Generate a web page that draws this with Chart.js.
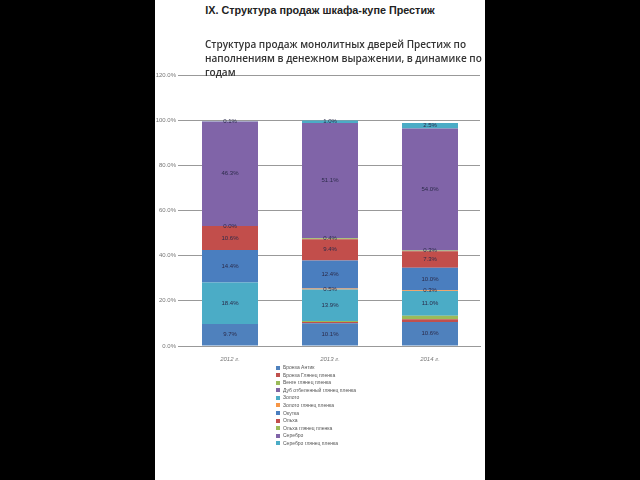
<!DOCTYPE html>
<html>
<head>
<meta charset="utf-8">
<script src="https://cdn.jsdelivr.net/npm/chart.js@4"></script>
<style>
  html, body { margin: 0; padding: 0; background: #000; }
  #page { position: relative; width: 640px; height: 480px; background: #000; overflow: hidden; }
  #panel { position: absolute; left: 155px; top: 0; width: 330px; height: 480px; background: #fff; }
  #mainTitle { position: absolute; left: 0; width: 640px; top: 4px; text-align: center;
    font: bold 10.8px "Liberation Sans", sans-serif; color: #222; }
  #chartTitle { position: absolute; left: 205px; top: 37px; width: 286px;
    font: 600 10px "Open Sans", sans-serif; line-height: 14px; color: #333; z-index: 2; }
  #wrap { position: absolute; left: 155px; top: 60px; width: 330px; height: 310px; }
  #legend { position: absolute; left: 276px; top: 364px; font: 5px "Liberation Sans", sans-serif; color: #555; }
  #legend div { height: 7.6px; line-height: 7.6px; white-space: nowrap; }
  #legend span { display: inline-block; width: 4px; height: 4px; margin-right: 3px; vertical-align: -0.5px; }
</style>
</head>
<body>
<div id="page">
  <div id="panel"></div>
  <div id="mainTitle">IX. Структура продаж шкафа-купе Престиж</div>
  <div id="chartTitle">Структура продаж монолитных дверей Престиж по наполнениям в денежном выражении, в динамике по годам</div>
  <div id="wrap"><canvas id="chart"></canvas></div>
  <div id="legend"></div>
</div>
<script>
// Years
const years = ["2012 г.", "2013 г.", "2014 г."];

// Share of sales by filling, %
const bronzeAntique = [9.7, 10.1, 10.6];
const bronzeGloss = [null, 0.5, 1.3];
const wengeGloss = [null, 0.5, 1.5];
const oakGloss = [null, null, null];
const gold = [18.4, 13.9, 11.0];
const goldGloss = [null, 0.5, 0.3];
const okutka = [14.4, 12.4, 10.0];
const alder = [10.6, 9.4, 7.3];
const alderGloss = [0.0, 0.4, 0.3];
const silver = [46.3, 51.1, 54.0];
const silverGloss = [0.1, 1.0, 2.5];

// Axis ticks
const yTicks = [0, 20, 40, 60, 80, 100, 120];

const series = [
  { label: "Бронза Антик", data: bronzeAntique, color: "#4f81bd", showValues: true },
  { label: "Бронза Глянец пленка", data: bronzeGloss, color: "#c0504d", showValues: false },
  { label: "Венге глянец пленка", data: wengeGloss, color: "#9bbb59", showValues: false },
  { label: "Дуб отбеленный глянец пленка", data: oakGloss, color: "#8064a2", showValues: false },
  { label: "Золото", data: gold, color: "#4bacc6", showValues: true },
  { label: "Золото глянец пленка", data: goldGloss, color: "#f79646", showValues: true },
  { label: "Окутка", data: okutka, color: "#4a7ebf", showValues: true },
  { label: "Ольха", data: alder, color: "#c24e4b", showValues: true },
  { label: "Ольха глянец пленка", data: alderGloss, color: "#9bbb59", showValues: true },
  { label: "Серебро", data: silver, color: "#8064a8", showValues: true },
  { label: "Серебро глянец пленка", data: silverGloss, color: "#4bacc6", showValues: true },
];

// Small value labels in the middle of each segment
const segmentLabels = {
  id: "segmentLabels",
  afterDatasetsDraw(chart) {
    const ctx = chart.ctx;
    ctx.save();
    ctx.font = "6px 'Liberation Sans', sans-serif";
    ctx.fillStyle = "#2b2b4a";
    ctx.textAlign = "center";
    ctx.textBaseline = "middle";
    chart.data.datasets.forEach((ds, i) => {
      if (!ds.showValues) return;
      chart.getDatasetMeta(i).data.forEach((bar, j) => {
        const v = ds.data[j];
        if (v === null || v === undefined) return;
        const mid = (bar.y + bar.base) / 2;
        ctx.fillText(v.toFixed(1) + "%", bar.x, mid);
      });
    });
    ctx.restore();
  },
};

const chart = new Chart(document.getElementById("chart"), {
  type: "bar",
  data: {
    labels: years,
    datasets: series.map((s) => ({
      label: s.label,
      data: s.data,
      backgroundColor: s.color,
      borderWidth: 0,
      showValues: s.showValues,
      barPercentage: 0.56,
      categoryPercentage: 1,
    })),
  },
  options: {
    responsive: true,
    maintainAspectRatio: false,
    animation: false,
    layout: { padding: { top: 15, right: 5, left: 0, bottom: 0 } },
    scales: {
      x: {
        stacked: true,
        grid: { display: false },
        border: { color: "#999" },
        ticks: { color: "#777", font: { size: 6, style: "italic", family: "Liberation Sans" }, padding: 2 },
        afterFit(axis) { axis.height = 24; },
      },
      y: {
        stacked: true,
        min: 0,
        max: 120,
        afterBuildTicks(axis) { axis.ticks = yTicks.map((v) => ({ value: v })); },
        grid: { color: "#999", tickLength: 2 },
        border: { display: false },
        ticks: {
          color: "#777",
          font: { size: 6, family: "Liberation Sans" },
          padding: 2,
          callback: (v) => v.toFixed(1) + "%",
        },
        afterFit(axis) { axis.width = 25; },
      },
    },
    plugins: {
      legend: { display: false },
      tooltip: { enabled: false },
    },
  },
  plugins: [segmentLabels],
});

// Vertical legend under the chart
const legend = document.getElementById("legend");
series.forEach((s) => {
  const row = document.createElement("div");
  row.innerHTML = '<span style="background:' + s.color + '"></span>' + s.label;
  legend.appendChild(row);
});
</script>
</body>
</html>
